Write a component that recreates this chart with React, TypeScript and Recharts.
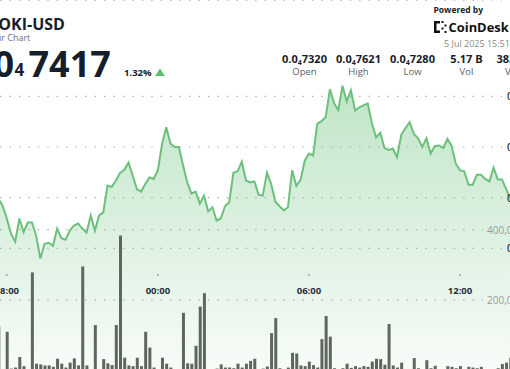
import React from "react";
import { ComposedChart, Area, Bar, XAxis, YAxis, CartesianGrid } from "recharts";

// 10-minute candles, first one at 17:30 on 4 Jul (minutes from midnight)
const START_MIN = 1050;
const STEP_MIN = 10;

// close price in units of 0.0₄ (7417 -> 0.00007417)
const priceE8 = [
  7410, 7398, 7384, 7359, 7329, 7313, 7359, 7332, 7351, 7351, 7325, 7280, 7309,
  7311, 7305, 7339, 7320, 7317, 7335, 7345, 7349, 7339, 7331, 7365, 7335, 7365,
  7371, 7424, 7421, 7434, 7449, 7455, 7469, 7444, 7417, 7412, 7427, 7440, 7437,
  7454, 7506, 7539, 7507, 7500, 7500, 7464, 7430, 7408, 7412, 7388, 7404, 7373,
  7381, 7355, 7359, 7383, 7391, 7449, 7452, 7471, 7434, 7430, 7432, 7406, 7404,
  7449, 7427, 7392, 7383, 7375, 7381, 7454, 7423, 7435, 7473, 7487, 7483, 7546,
  7551, 7559, 7614, 7586, 7573, 7621, 7590, 7612, 7572, 7578, 7582, 7586, 7547,
  7519, 7528, 7498, 7494, 7497, 7480, 7524, 7537, 7549, 7526, 7517, 7500, 7517,
  7487, 7502, 7503, 7498, 7516, 7502, 7467, 7454, 7452, 7426, 7425, 7445, 7445,
  7437, 7432, 7459, 7436, 7436, 7417, 7398, 7382,
];

// volume per candle, millions of FLOKI
const volumeM = [
  20, 123, 2, 109, 4, 7, 37, 11, 2, 278, 18, 16, 13,
  13, 9, 32, 18, 7, 21, 33, 13, 295, 13, 2, 128, 1,
  31, 19, 14, 128, 383, 35, 13, 11, 35, 11, 109, 64, 7,
  1, 35, 18, 7, 1, 1, 163, 19, 18, 69, 181, 219, 1,
  2, 4, 16, 7, 7, 5, 18, 7, 18, 26, 32, 2, 4,
  10, 105, 148, 5, 2, 7, 49, 47, 13, 11, 24, 14, 7,
  88, 154, 95, 5, 2, 5, 18, 6, 11, 7, 11, 9, 24,
  32, 31, 15, 131, 13, 7, 21, 2, 2, 34, 5, 2, 28,
  5, 12, 2, 2, 11, 9, 5, 11, 2, 9, 7, 5, 9,
  2, 2, 2, 5, 17, 21, 35, 20,
];

const timeTicks = [1080, 1440, 1800, 2160];
const priceTicks = [7300, 7400, 7500, 7600];
const volumeTicks = [200, 400];

const data = priceE8.map((p, i) => ({
  t: START_MIN + i * STEP_MIN,
  price: p,
  vol: volumeM[i],
}));

const FONT = "'Open Sans', 'Noto Sans', sans-serif";
const DARK = "#161d2c";

const pad = (n: number) => String(n).padStart(2, "0");
const fmtTime = (m: number) => `${pad(Math.floor(m / 60) % 24)}:${pad(m % 60)}`;

const TimeTick = (props: any) => {
  const { x, y, payload } = props;
  return (
    <g>
      <circle cx={x} cy={y - 19} r={0.9} fill="#9a9a9a" />
      <text x={x} y={y} textAnchor="middle" fontSize={9.5} fontWeight={700} fill="#2a2f3a" fontFamily={FONT}>
        {fmtTime(payload.value)}
      </text>
    </g>
  );
};

const PriceTick = (props: any) => {
  const { x, y, payload } = props;
  return (
    <text x={x} y={y} dominantBaseline="central" textAnchor="start" fontSize={10} fontWeight={600} fill="#333" fontFamily={FONT}>
      {"0.0"}
      <tspan fontSize={7} dy={2}>4</tspan>
      <tspan dy={-2}>{payload.value}</tspan>
    </text>
  );
};

const VolumeTick = (props: any) => {
  const { x, y, payload } = props;
  return (
    <text x={x} y={y} dominantBaseline="central" textAnchor="start" fontSize={10} fill="#9a9a9a" fontFamily={FONT}>
      {(payload.value * 1e6).toLocaleString("en-US")}
    </text>
  );
};

const Stat = ({ x, value, sub, label }: { x: number; value: string; sub?: string; label: string }) => (
  <g fontFamily={FONT}>
    <text x={x} y={63} textAnchor="middle" fontSize={11} fontWeight={700} fill={DARK}>
      {sub ? "0.0" : value}
      {sub && <tspan fontSize={7} dy={1.5}>4</tspan>}
      {sub && <tspan dy={-1.5}>{sub}</tspan>}
    </text>
    <text x={x} y={74.5} textAnchor="middle" fontSize={9.5} fill="#5b606a">
      {label}
    </text>
  </g>
);

export default function App() {
  return (
    <div style={{ position: "fixed", left: 0, top: 0, width: 510, height: 369, overflow: "hidden", background: "#fff" }}>
      <ComposedChart width={510} height={369} data={data} margin={{ top: 0, right: -2, bottom: -1, left: 0 }}>
        <defs>
          <linearGradient id="priceFill" x1="0" y1="0" x2="0" y2="1">
            <stop offset="0%" stopColor="#7cc98a" stopOpacity={0.8} />
            <stop offset="100%" stopColor="#7cc98a" stopOpacity={0.1} />
          </linearGradient>
        </defs>
        <CartesianGrid yAxisId="p" vertical={false} width={502} stroke="#b0b0b0" strokeWidth={1.2} strokeDasharray="1.5 7.95" />
        <CartesianGrid yAxisId="v" vertical={false} width={483} stroke="#b0b0b0" strokeWidth={1.2} strokeDasharray="1.5 7.95" />
        <XAxis
          dataKey="t"
          type="number"
          domain={[1063.8, 2283.9]}
          allowDataOverflow
          ticks={timeTicks}
          height={1}
          mirror
          tickSize={0}
          tickMargin={76}
          axisLine={false}
          tickLine={false}
          tick={TimeTick}
          interval={0}
        />
        <YAxis
          yAxisId="p"
          orientation="right"
          mirror
          width={1}
          domain={[7060, 7790]}
          allowDataOverflow
          ticks={priceTicks}
          tickSize={0}
          tickMargin={5}
          axisLine={false}
          tickLine={false}
          tick={PriceTick}
        />
        <YAxis
          yAxisId="v"
          orientation="right"
          mirror
          width={1}
          domain={[0, 1054.3]}
          allowDataOverflow
          ticks={volumeTicks}
          tickSize={0}
          tickMargin={24}
          axisLine={false}
          tickLine={false}
          tick={VolumeTick}
        />
        <Area
          yAxisId="p"
          dataKey="price"
          type="linear"
          stroke="#6cc07c"
          strokeWidth={2}
          fill="url(#priceFill)"
          dot={false}
          activeDot={false}
          isAnimationActive={false}
        />
        <Bar yAxisId="v" dataKey="vol" barSize={3} fill="#5e675e" isAnimationActive={false} />
      </ComposedChart>

      <svg width={510} height={369} style={{ position: "absolute", left: 0, top: 0, pointerEvents: "none" }}>
        <g fontFamily={FONT}>
          <text x={-19.5} y={29.5} fontSize={16} fontWeight={700} fill={DARK}>FLOKI-USD</text>
          <text x={-29} y={40.5} fontSize={9} fill="#6b6f78">24 Hour Chart</text>
          <text x={14} y={77} textAnchor="end" fontSize={36} fontWeight={700} fill={DARK}>0.0</text>
          <text x={14.5} y={76} fontSize={17} fontWeight={700} fill={DARK}>4</text>
          <text x={28.5} y={77} fontSize={36} fontWeight={700} fill={DARK}>7417</text>
          <text x={124} y={75.5} fontSize={9.5} fontWeight={700} fill={DARK}>1.32%</text>
          <polygon points="155,76 165,76 160,68.5" fill="#5dbf6f" />

          <text x={433.5} y={12.5} fontSize={8.5} fontWeight={700} fill="#222">Powered by</text>
          <g fill="#111">
            <rect x={434} y={21} width={2.5} height={12} />
            <rect x={434} y={21} width={6} height={2.5} />
            <rect x={434} y={30.5} width={6} height={2.5} />
            <rect x={441.5} y={21} width={2} height={2} />
            <rect x={444.5} y={24.5} width={2} height={2} />
            <rect x={441.5} y={27.5} width={2} height={2} />
            <rect x={444.5} y={31} width={2} height={2} />
          </g>
          <text x={448.5} y={31.5} fontSize={12.9} fontWeight={700} fill="#111">CoinDesk</text>
          <text x={444} y={47} fontSize={9} fill="#8a8a8a">5 Jul 2025 15:51</text>
        </g>
        <Stat x={304.5} value="" sub="7320" label="Open" />
        <Stat x={358.5} value="" sub="7621" label="High" />
        <Stat x={412.5} value="" sub="7280" label="Low" />
        <Stat x={466.5} value="5.17 B" label="Vol" />
        <g fontFamily={FONT}>
          <text x={496.5} y={63} fontSize={11} fontWeight={700} fill={DARK}>383.62 K</text>
          <text x={505} y={74.5} fontSize={9.5} fill="#5b606a">Vol USD</text>
        </g>
      </svg>
    </div>
  );
}
